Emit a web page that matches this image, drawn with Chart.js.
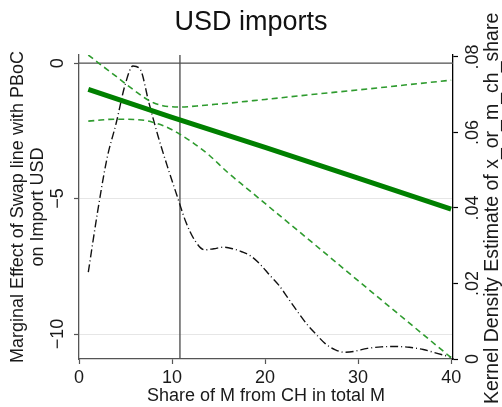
<!DOCTYPE html>
<html>
<head>
<meta charset="utf-8">
<script src="https://cdn.jsdelivr.net/npm/chart.js@4/dist/chart.umd.min.js"></script>
<style>
  html, body { margin: 0; padding: 0; background: #fff; }
  canvas { display: block; }
</style>
</head>
<body>
<canvas id="chart" width="502" height="407"></canvas>
<script>
// Share of imports from China (x) and the marginal effect of the PBoC swap line
const effectShare = [1, 10, 20, 30, 40];
const effectValue = [-0.97, -2.0, -3.11, -4.24, -5.39];

// 95% confidence band around the marginal effect
const bandShare = [1, 2, 3, 4, 5, 6, 7, 8, 9, 10, 11, 12, 13, 14, 16, 18, 20, 25, 30, 35, 40];
const bandUpper = [0.30, 0.03, -0.23, -0.49, -0.76, -1.02, -1.27, -1.46, -1.57, -1.61, -1.62, -1.60, -1.57, -1.54, -1.48, -1.41, -1.34, -1.16, -0.99, -0.81, -0.63];
const bandLower = [-2.14, -2.11, -2.08, -2.07, -2.07, -2.08, -2.11, -2.19, -2.30, -2.46, -2.66, -2.88, -3.13, -3.40, -4.04, -4.61, -5.18, -6.60, -8.03, -9.45, -10.87];

// Kernel density of the import share (right axis)
const densityShare = [1, 2, 3, 4, 5, 5.8, 6.6, 7.5, 8.5, 9.5, 10.5, 11.5, 12.5, 13.5, 14.5, 15.5, 16.5, 17.5, 18.5, 19.5, 20.5, 21.5, 22.5, 23.5, 24.5, 25.5, 26.5, 27.5, 28.5, 29.5, 31, 32.5, 34, 35.5, 37, 38.5, 40];
const densityValue = [0.0230, 0.0390, 0.0530, 0.0625, 0.0730, 0.0776, 0.0766, 0.0680, 0.0590, 0.0510, 0.0435, 0.0362, 0.0312, 0.0289, 0.0292, 0.0296, 0.0292, 0.0284, 0.0272, 0.0250, 0.0222, 0.0195, 0.0160, 0.0125, 0.0092, 0.0065, 0.0040, 0.0025, 0.0018, 0.0020, 0.0028, 0.0032, 0.0033, 0.0031, 0.0025, 0.0015, 0.0005];

// Reference lines: zero effect and the threshold share
const zeroEffect = 0;
const thresholdShare = 10.85;

// Axes
const xTicks = [0, 10, 20, 30, 40];
const xRange = [0, 40.2];
const effectTicks = [-10, -5, 0];
const effectRange = [-10.92, 0.3];
const densityTicks = [0, 0.02, 0.04, 0.06, 0.08];
const densityRange = [0, 0.0805];

const titleText = 'USD imports';
const xTitle = 'Share of M from CH in total M';
const effectTitle = ['Marginal Effect of Swap line with PBoC', 'on Import USD'];
const densityTitle = 'Kernel Density Estimate of x_or_m_ch_share';

const FONT = '"Liberation Sans", Arial, Helvetica, sans-serif';
const TEXT = '#1a1a1a';

const pts = (xs, ys) => xs.map((x, i) => ({ x, y: ys[i] }));

// Right-hand axis title, reading bottom to top like the left one
const densityTitlePlugin = {
  id: 'densityTitle',
  afterDraw(chart) {
    const s = chart.scales.y2;
    const ctx = chart.ctx;
    ctx.save();
    ctx.font = '19.5px ' + FONT;
    ctx.fillStyle = TEXT;
    ctx.translate(s.right - 9, chart.height - 3);
    ctx.rotate(-Math.PI / 2);
    ctx.textAlign = 'left';
    ctx.textBaseline = 'middle';
    ctx.fillText(densityTitle, 0, 0);
    ctx.restore();
  }
};

new Chart(document.getElementById('chart'), {
  type: 'line',
  data: {
    datasets: [
      {
        label: 'Marginal effect',
        data: pts(effectShare, effectValue),
        borderColor: 'rgb(0,128,0)',
        borderWidth: 5,
        pointRadius: 0,
        yAxisID: 'y',
        order: 1
      },
      {
        label: 'Upper bound',
        data: pts(bandShare, bandUpper),
        borderColor: 'rgb(46,155,46)',
        borderWidth: 1.6,
        borderDash: [6, 4],
        pointRadius: 0,
        cubicInterpolationMode: 'monotone',
        yAxisID: 'y',
        order: 2
      },
      {
        label: 'Lower bound',
        data: pts(bandShare, bandLower),
        borderColor: 'rgb(46,155,46)',
        borderWidth: 1.6,
        borderDash: [6, 4],
        pointRadius: 0,
        cubicInterpolationMode: 'monotone',
        yAxisID: 'y',
        order: 2
      },
      {
        label: 'Density',
        data: pts(densityShare, densityValue),
        borderColor: '#111',
        borderWidth: 1.4,
        borderDash: [8, 3, 1, 3],
        pointRadius: 0,
        cubicInterpolationMode: 'monotone',
        yAxisID: 'y2',
        order: 3
      },
      {
        label: 'Zero',
        data: [{ x: xRange[0], y: zeroEffect }, { x: xRange[1], y: zeroEffect }],
        borderColor: '#555',
        borderWidth: 1.4,
        pointRadius: 0,
        yAxisID: 'y',
        order: 5
      },
      {
        label: 'Threshold',
        data: [{ x: thresholdShare, y: effectRange[0] }, { x: thresholdShare, y: effectRange[1] }],
        borderColor: '#555',
        borderWidth: 1.4,
        pointRadius: 0,
        yAxisID: 'y',
        order: 5
      }
    ]
  },
  options: {
    responsive: false,
    devicePixelRatio: 1,
    animation: false,
    layout: { padding: 0 },
    plugins: {
      legend: { display: false },
      tooltip: { enabled: false },
      title: {
        display: true,
        text: titleText,
        color: '#111',
        font: { family: FONT, size: 27, weight: 'normal', lineHeight: 1.2 },
        padding: { top: 6, bottom: 16.6 }
      }
    },
    scales: {
      x: {
        type: 'linear',
        position: 'bottom',
        min: xRange[0],
        max: xRange[1],
        afterBuildTicks: s => { s.ticks = xTicks.map(v => ({ value: v })); },
        afterFit: s => { s.height = 48; },
        ticks: {
          color: TEXT,
          font: { family: FONT, size: 18 },
          padding: 3,
          maxRotation: 0,
          callback: v => String(v)
        },
        grid: { drawOnChartArea: false, tickLength: 5, tickColor: '#555', tickWidth: 1.2 },
        border: { color: '#555', width: 1.3 },
        title: {
          display: true,
          text: xTitle,
          color: TEXT,
          font: { family: FONT, size: 18 },
          padding: { top: 0, bottom: 0 }
        }
      },
      y: {
        type: 'linear',
        position: 'left',
        min: effectRange[0],
        max: effectRange[1],
        afterBuildTicks: s => { s.ticks = effectTicks.map(v => ({ value: v })); },
        afterFit: s => { s.width = 79; },
        ticks: {
          color: TEXT,
          font: { family: FONT, size: 18 },
          minRotation: 90,
          maxRotation: 90,
          crossAlign: 'center',
          padding: 1,
          callback: v => (v < 0 ? '\u2212' + Math.abs(v) : String(v))
        },
        grid: { color: '#e6e6e6', lineWidth: 1, tickLength: 5, tickColor: '#555', tickWidth: 1.2 },
        border: { color: '#555', width: 1.3 },
        title: {
          display: true,
          text: effectTitle,
          color: TEXT,
          font: { family: FONT, size: 18, lineHeight: 1.1 },
          padding: { top: 8, bottom: 0 }
        }
      },
      y2: {
        type: 'linear',
        position: 'right',
        min: densityRange[0],
        max: densityRange[1],
        afterBuildTicks: s => { s.ticks = densityTicks.map(v => ({ value: v })); },
        afterFit: s => { s.width = 49; },
        ticks: {
          color: TEXT,
          font: { family: FONT, size: 18 },
          minRotation: 90,
          maxRotation: 90,
          crossAlign: 'center',
          padding: 3,
          callback: v => (v === 0 ? '0' : String(Math.round(v * 100) / 100).replace(/^0/, ''))
        },
        grid: { drawOnChartArea: false, tickLength: 5, tickColor: '#000', tickWidth: 1.2 },
        border: { color: '#000', width: 1.3 }
      }
    }
  },
  plugins: [densityTitlePlugin]
});
</script>
</body>
</html>
